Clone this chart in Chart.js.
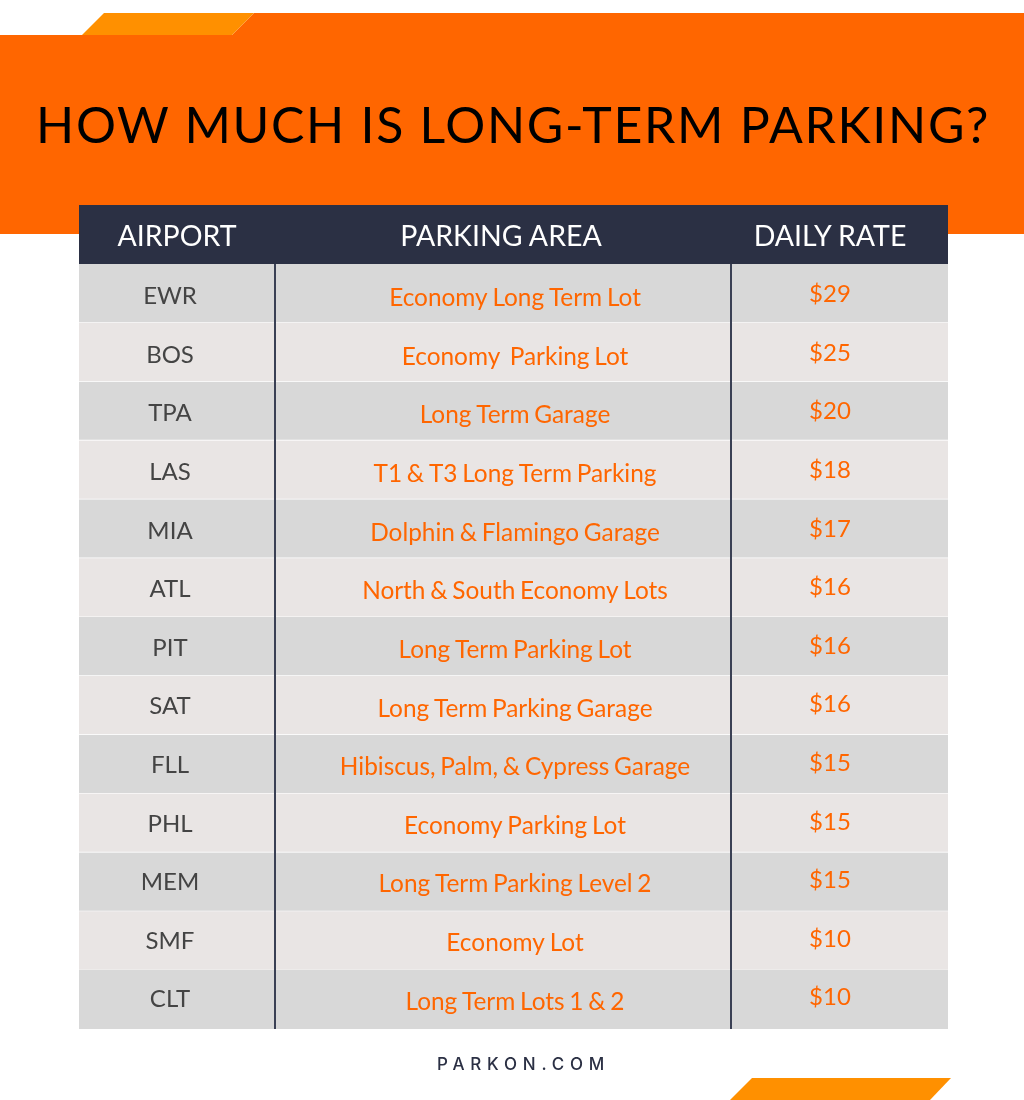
<!DOCTYPE html>
<html>
<head>
<meta charset="utf-8">
<title>How Much Is Long-Term Parking?</title>
<script src="https://cdn.jsdelivr.net/npm/chart.js@4"></script>
<style>
  html, body { margin: 0; padding: 0; background: #fff; }
  #page { position: relative; width: 1024px; height: 1100px; overflow: hidden; font-family: Lato, sans-serif; }
  #page > * { position: absolute; }
  #banner { left: 0; top: 0; width: 1024px; height: 234px; background: #ff6600;
    clip-path: polygon(254px 13px, 1024px 13px, 1024px 234px, 0 234px, 0 35px, 232px 35px); }
  #tabTop { left: 0; top: 0; width: 300px; height: 40px; background: #ff9000;
    clip-path: polygon(104px 13px, 254px 13px, 232px 35px, 82px 35px); }
  #tabBottom { left: 700px; top: 1070px; width: 300px; height: 30px; background: #ff9000;
    clip-path: polygon(52px 8px, 251px 8px, 230px 30px, 30px 30px); }
  h1 { left: 36px; top: 88px; margin: 0; font-size: 50px; line-height: 72px;
    font-weight: 400; letter-spacing: 1.7px; color: #000; white-space: nowrap; }
  #tableHead { left: 79px; top: 205px; width: 869px; height: 59px; background: #2b3044; }
  .th { top: 205px; height: 59px; line-height: 60px; font-size: 28.5px; color: #fff; text-align: center; white-space: nowrap; transform: translateX(-50%); }
  #footer { left: 437px; top: 1052px; font-family: Inter, sans-serif; font-weight: 500;
    font-size: 17px; line-height: 24px; letter-spacing: 5.8px; color: #2b3044; white-space: nowrap; }
  canvas { left: 0; top: 0; }
</style>
</head>
<body>
<div id="page">
  <div id="banner"></div>
  <div id="tabTop"></div>
  <div id="tabBottom"></div>
  <h1>HOW MUCH IS LONG-TERM PARKING?</h1>
  <div id="tableHead"></div>
  <canvas id="chart" width="1024" height="1100"></canvas>
  <div class="th" style="left:177px">AIRPORT</div>
  <div class="th" style="left:501px">PARKING AREA</div>
  <div class="th" style="left:830px">DAILY RATE</div>
  <div id="footer">PARKON.COM</div>
</div>
<script>
const airports = ['EWR', 'BOS', 'TPA', 'LAS', 'MIA', 'ATL', 'PIT', 'SAT', 'FLL', 'PHL', 'MEM', 'SMF', 'CLT'];
const parkingAreas = [
  'Economy Long Term Lot',
  'Economy  Parking Lot',
  'Long Term Garage',
  'T1 & T3 Long Term Parking',
  'Dolphin & Flamingo Garage',
  'North & South Economy Lots',
  'Long Term Parking Lot',
  'Long Term Parking Garage',
  'Hibiscus, Palm, & Cypress Garage',
  'Economy Parking Lot',
  'Long Term Parking Level 2',
  'Economy Lot',
  'Long Term Lots 1 & 2'
];
const dailyRates = [29, 25, 20, 18, 17, 16, 16, 16, 15, 15, 15, 10, 10];

// x scale is just the table width, columns are placed on it
const tableWidth = 869;
const columnEdges = [196, 652];

// Draw the cell text on top of the row bands
const cellText = {
  id: 'cellText',
  afterDatasetsDraw(chart) {
    const { ctx, scales: { x, y } } = chart;
    ctx.save();
    ctx.textAlign = 'center';
    ctx.textBaseline = 'middle';
    airports.forEach((airport, i) => {
      // text rows in the picture sit slightly closer together than the bands
      const rowY = y.getPixelForValue(i) + 1 - 0.24 * i;
      ctx.font = '24px Lato';
      ctx.wordSpacing = '0px';
      ctx.fillStyle = '#444444';
      ctx.fillText(airport, x.getPixelForValue(91), rowY + 2);
      ctx.font = '24.4px Lato';
      ctx.wordSpacing = '-1.5px';
      ctx.fillStyle = '#ff6600';
      ctx.fillText(parkingAreas[i], x.getPixelForValue(436), rowY + 4);
      ctx.font = '24px Lato';
      ctx.wordSpacing = '0px';
      ctx.fillText('$' + dailyRates[i], x.getPixelForValue(751), rowY);
    });
    ctx.restore();
  }
};

new Chart(document.getElementById('chart'), {
  type: 'bar',
  data: {
    labels: airports,
    datasets: [{
      data: airports.map(() => [0, tableWidth]),
      backgroundColor: airports.map((_, i) => i % 2 === 0 ? '#d8d8d8' : '#e9e5e4'),
      borderColor: '#ffffff',
      borderWidth: c => ({ bottom: c.dataIndex === airports.length - 1 ? 0 : 1 }),
      borderSkipped: false,
      barPercentage: 1,
      categoryPercentage: 1
    }]
  },
  options: {
    indexAxis: 'y',
    responsive: false,
    animation: false,
    layout: { padding: { left: 79, right: 76, top: 264, bottom: 71 } },
    plugins: { legend: { display: false }, tooltip: { enabled: false } },
    scales: {
      x: {
        type: 'linear',
        min: 0,
        max: tableWidth,
        afterBuildTicks(axis) {
          axis.ticks = columnEdges.map(value => ({ value }));
        },
        ticks: { display: false },
        border: { display: false },
        grid: { color: '#3a4054', lineWidth: 2, drawTicks: false, z: 1 }
      },
      y: { display: false }
    }
  },
  plugins: [cellText]
});
</script>
</body>
</html>
